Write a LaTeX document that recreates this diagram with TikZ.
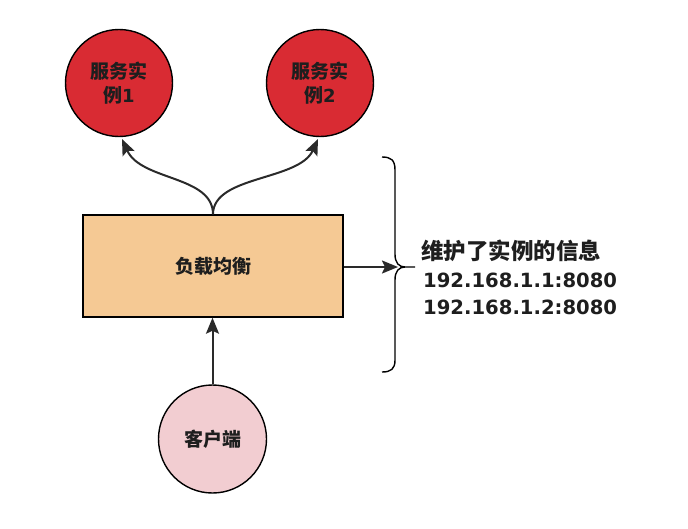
\documentclass[tikz,border=0pt]{standalone}
\usepackage{fontspec}
\setmainfont{Noto Sans CJK SC}
\newfontfamily\cjkf{Noto Sans CJK SC}
\newfontfamily\latf{DejaVu Sans}
\usetikzlibrary{arrows.meta}
\definecolor{txt}{HTML}{1E1E1E}
\definecolor{svcred}{HTML}{D92B33}
\definecolor{lbfill}{HTML}{F5C994}
\definecolor{clfill}{HTML}{F2CDD1}
\definecolor{ln}{HTML}{2A2A2A}
\begin{document}
\begin{tikzpicture}[x=1pt,y=-1pt,
  svc/.style={circle,draw=black,line width=1.4pt,fill=svcred,minimum size=107pt,inner sep=0pt,align=center,text=txt,font=\fontsize{19}{23.5}\selectfont\bfseries},
  lbbox/.style={rectangle,draw=black,line width=1.4pt,fill=lbfill,minimum width=260pt,minimum height=102pt,inner sep=0pt,text=txt,font=\fontsize{19}{22}\selectfont\bfseries},
  client/.style={circle,draw=black,line width=1.4pt,fill=clfill,minimum size=108pt,inner sep=0pt,text=txt,font=\fontsize{19}{22}\selectfont\bfseries},
  conn/.style={draw=ln,line width=2pt,-{Stealth[length=16pt,width=13pt,inset=3pt]}},
  info/.style={anchor=base west,text=txt,inner sep=0pt}
]
\useasboundingbox[fill=white] (0,0) rectangle (688,528);
\node[svc] (s1) at (119,83) {服务实\\例{\latf\fontsize{18}{23.5}\selectfont\bfseries 1}};
\node[svc] (s2) at (320,83) {服务实\\例{\latf\fontsize{18}{23.5}\selectfont\bfseries 2}};
\node[lbbox] (lb) at (213,266) {负载均衡};
\node[client] (cl) at (212.5,439) {客户端};
\coordinate (bt) at (398,267);
\coordinate (t1) at (122,139);
\coordinate (t2) at (318,139);
\node[info,font=\cjkf\fontsize{22.5}{26}\selectfont\bfseries] (i1) at (421,259) {维护了实例的信息};
\node[info,font=\latf\fontsize{19.6}{26}\selectfont\bfseries] (i2) at (423,287.5) {192.168.1.1:8080};
\node[info,font=\latf\fontsize{19.6}{26}\selectfont\bfseries] (i3) at (423,314) {192.168.1.2:8080};
% arrows
\draw[conn] (lb.north) .. controls +(0,-39) and +(19,42) .. (t1);
\draw[conn] (lb.north) .. controls +(0,-39) and +(-19,42) .. (t2);
\draw[conn] (cl.north) -- (lb.south -| cl.north);
\draw[conn] (lb.east |- bt) -- (bt);
% brace
\draw[black,line width=1.4pt]
  (382,157) .. controls (391,157) and (395,160) .. (395,170)
  -- (395,254) .. controls (395,263) and (399,267) .. (405,267) -- (415,267)
  (405,267) .. controls (399,267) and (395,271) .. (395,280)
  -- (395,360) .. controls (395,369) and (391,372) .. (382,372);
\end{tikzpicture}
\end{document}
